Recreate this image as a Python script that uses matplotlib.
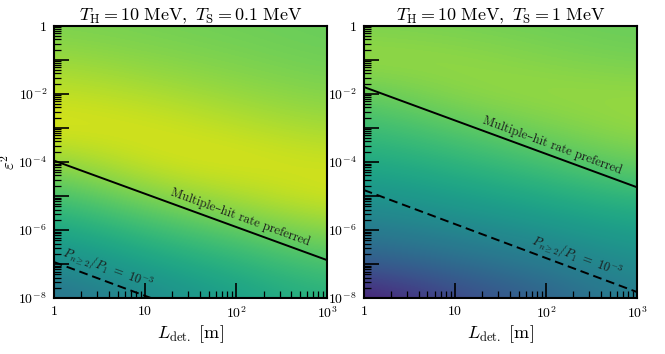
import numpy as np
import matplotlib
matplotlib.use('Agg')
import matplotlib.pyplot as plt
from matplotlib.ticker import LogLocator, FuncFormatter, NullFormatter

plt.rcParams['mathtext.fontset'] = 'cm'
plt.rcParams['font.family'] = ['cmr10', 'DejaVu Serif']
plt.rcParams['axes.formatter.use_mathtext'] = True

# grid on which the colour values were read (log10 L, log10 eps^2)
logL_grid = [0, 1, 2, 3]
logeps_grid = [0, -1, -2, -3, -4, -5, -6, -7, -8]

# colour value (0..1 on viridis), one list per column of logL_grid
left_cols = [
    [0.80, 0.85, 0.91, 0.95, 0.83, 0.70, 0.58, 0.47, 0.36],
    [0.79, 0.82, 0.88, 0.94, 0.93, 0.81, 0.68, 0.57, 0.47],
    [0.78, 0.80, 0.84, 0.90, 0.95, 0.88, 0.75, 0.64, 0.56],
    [0.77, 0.78, 0.81, 0.86, 0.92, 0.94, 0.83, 0.72, 0.64],
]
right_cols = [
    [0.80, 0.85, 0.76, 0.68, 0.60, 0.51, 0.41, 0.28, 0.06],
    [0.79, 0.84, 0.83, 0.74, 0.65, 0.56, 0.46, 0.35, 0.21],
    [0.78, 0.81, 0.85, 0.80, 0.71, 0.61, 0.51, 0.41, 0.31],
    [0.77, 0.79, 0.84, 0.85, 0.78, 0.67, 0.57, 0.50, 0.43],
]

# boundary lines, given at L = 1 m and L = 1000 m
L_ends = [1, 1000]
left_solid = [1.1e-4, 1.3e-7]
left_dashed = [1.15e-7, 1.2e-10]
right_solid = [1.6e-2, 1.8e-5]
right_dashed = [1.5e-5, 1.5e-8]

titles = [r'$T_{\rm H} = 10\ {\rm MeV},\ T_{\rm S} = 0.1\ {\rm MeV}$',
          r'$T_{\rm H} = 10\ {\rm MeV},\ T_{\rm S} = 1\ {\rm MeV}$']
solid_text = 'Multiple\u2013hit rate preferred'
dashed_text = r'$P_{n\geq2}/P_1\ =\ 10^{-3}$'
# where the labels sit along the lines (L in m)
solid_text_L = [105, 112]
dashed_text_L = [3.6, 200]


def ytick_fmt(v, pos):
    e = int(round(np.log10(v)))
    if e % 2:
        return ''
    if e == 0:
        return r'$1$'
    return r'$10^{%d}$' % e


def xtick_fmt(v, pos):
    e = int(round(np.log10(v)))
    if e == 0:
        return r'$1$'
    if e == 1:
        return r'$10$'
    return r'$10^{%d}$' % e


def line_angle(ax, L, y):
    p = ax.transData.transform(np.column_stack([L, y]))
    return np.degrees(np.arctan2(p[1, 1] - p[0, 1], p[1, 0] - p[0, 0]))


def line_at(L_ends, ys, L):
    k = np.log(ys[1] / ys[0]) / np.log(L_ends[1] / L_ends[0])
    return ys[0] * (L / L_ends[0]) ** k


fig = plt.figure(figsize=(6.65, 3.54), dpi=100)
rects = [[0.081, 0.158, 0.411, 0.769], [0.547, 0.158, 0.411, 0.769]]
panels = [(left_cols, left_solid, left_dashed), (right_cols, right_solid, right_dashed)]
axes = []

for i, rect in enumerate(rects):
    cols, solid, dashed = panels[i]

    # colour map drawn on a plain axes in log10 units underneath
    bg = fig.add_axes(rect, zorder=0)
    C = np.array(cols).T
    dx = (logL_grid[1] - logL_grid[0]) / 2
    dy = (logeps_grid[0] - logeps_grid[1]) / 2
    bg.imshow(C, cmap='viridis', vmin=0, vmax=1, interpolation='bicubic',
              aspect='auto', origin='upper',
              extent=(logL_grid[0] - dx, logL_grid[-1] + dx,
                      logeps_grid[-1] - dy, logeps_grid[0] + dy))
    bg.set_xlim(logL_grid[0], logL_grid[-1])
    bg.set_ylim(logeps_grid[-1], logeps_grid[0])
    bg.axis('off')

    ax = fig.add_axes(rect, zorder=1)
    ax.patch.set_visible(False)
    axes.append(ax)
    ax.set_xscale('log')
    ax.set_yscale('log')
    ax.set_xlim(1, 1e3)
    ax.set_ylim(1e-8, 1)

    ax.plot(L_ends, solid, color='k', lw=1.4)
    ax.plot(L_ends, dashed, color='k', lw=1.4, ls=(0, (4.5, 2.5)))

    ax.xaxis.set_major_locator(LogLocator(base=10, numticks=10))
    ax.xaxis.set_minor_locator(LogLocator(base=10, subs=np.arange(2, 10), numticks=10))
    ax.yaxis.set_major_locator(LogLocator(base=10, numticks=20))
    ax.yaxis.set_minor_locator(LogLocator(base=10, subs=np.arange(2, 10), numticks=20))
    ax.xaxis.set_major_formatter(FuncFormatter(xtick_fmt))
    ax.yaxis.set_major_formatter(FuncFormatter(ytick_fmt))
    ax.xaxis.set_minor_formatter(NullFormatter())
    ax.yaxis.set_minor_formatter(NullFormatter())
    ax.tick_params(which='both', direction='in', top=False, right=False, labelsize=10)
    ax.tick_params(which='major', length=11, width=1.2, pad=5)
    ax.tick_params(which='minor', length=5, width=0.9)
    for sp in ax.spines.values():
        sp.set_linewidth(1.5)

    ax.set_title(titles[i], fontsize=13, pad=4)
    ax.set_xlabel(r'$L_{\rm det.}\ [{\rm m}]$', fontsize=13, labelpad=2)

    ang = line_angle(ax, L_ends, solid)
    Ls = solid_text_L[i]
    ax.text(Ls, line_at(L_ends, solid, Ls) * 1.35, solid_text, rotation=ang,
            rotation_mode='anchor', ha='center', va='bottom', fontsize=9,
            color='#1a1a1a')
    Ld = dashed_text_L[i]
    ax.text(Ld, line_at(L_ends, dashed, Ld) * 1.35, dashed_text, rotation=ang,
            rotation_mode='anchor', ha='center', va='bottom', fontsize=9,
            color='#1a1a1a')

axes[0].set_ylabel(r'$\varepsilon^2$', fontsize=12)
axes[0].yaxis.set_label_coords(-0.13, 0.5)

fig.savefig('out.png', dpi=100)
